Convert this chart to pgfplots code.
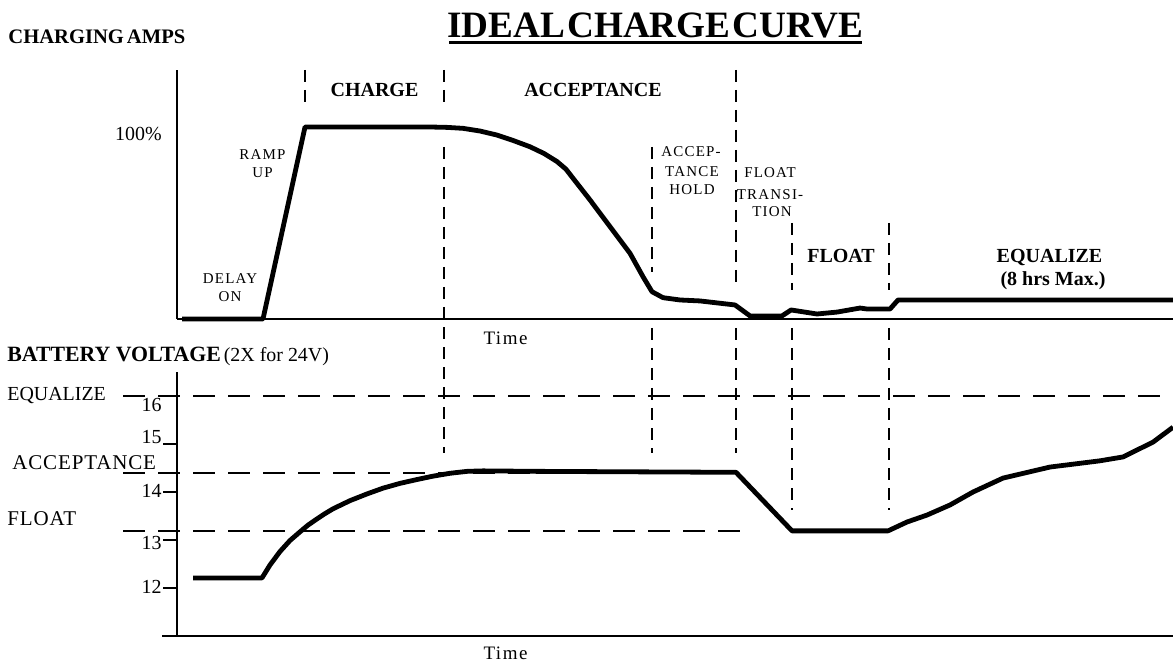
\documentclass[border=0pt]{standalone}
\usepackage{fontspec}
\setmainfont{Liberation Serif}
\newfontfamily\spaced[LetterSpace=8]{Liberation Serif}
\newfontfamily\spacedb[LetterSpace=4]{Liberation Serif}
\usepackage{pgfplots}
\pgfplotsset{compat=1.18}
\begin{document}
\begin{tikzpicture}[x=0.5bp,y=0.5bp]
\useasboundingbox (0,0) rectangle (1173,665);
\tikzset{vdash/.style={line width=0.75bp, dash pattern=on 6bp off 4bp},
         hdash/.style={line width=0.75bp, dash pattern=on 11bp off 6.5bp},
         small/.style={font=\fontsize{7.5bp}{9bp}\spaced, inner sep=0, anchor=base},
         bold/.style={font=\fontsize{10bp}{12bp}\bfseries, inner sep=0, anchor=base}}
% ---------------- top panel ----------------
\begin{axis}[at={(88.5bp,173bp)}, anchor=south west, scale only axis,
  width=498bp, height=124.5bp, xmin=0, xmax=996, ymin=0, ymax=129.7,
  axis lines=left, axis line style={-, line width=0.8bp},
  xtick=\empty, ytick=\empty, clip=false]
\addplot[line width=2.4bp, line join=round, black] coordinates {
(5,0) (86,0) (128,100) (253,100) (270,99.8) (286,99.3) (303,97.9) (320,95.8) (336,93.0)
(353,89.7) (367,86.2) (380,82.0) (389,78.0) (396,73.3) (413,62.0) (433,48.1)
(453,34.2) (466,22.0) (475,14.2) (486,11.1) (503,9.9)
(523,9.4) (558,7.3) (573,1.6) (605,1.6) (614,4.7) (640,2.6) (660,3.6)
(683,5.7) (690,5.2) (713,5.2) (721,9.9) (996,9.9)};
\end{axis}
% ---------------- bottom panel ----------------
\begin{axis}[at={(88.5bp,14.5bp)}, anchor=south west, scale only axis,
  width=498bp, height=132bp, xmin=0, xmax=996, ymin=11, ymax=16.5,
  axis lines=left, axis line style={-, line width=0.8bp},
  xtick=\empty, ytick={12,13,14,15,16}, yticklabels={},
  tick align=outside, major tick length=7bp,
  tick style={line width=0.8bp, black}, clip=false]
\draw[line width=0.8bp] (axis cs:-15,11) -- (axis cs:0,11);
\addplot[line width=2.4bp, line join=round, black] coordinates {
(16,12.21) (85,12.21) (93,12.48) (103,12.76) (113,12.99) (123,13.17) (131,13.31)
(140,13.44) (148,13.55) (156,13.65) (165,13.74) (173,13.82) (190,13.96) (206,14.08)
(223,14.18) (240,14.26) (256,14.33) (273,14.39) (290,14.43) (306,14.44) (360,14.43)
(559,14.41) (615,13.19) (711,13.19) (730,13.375) (750,13.52) (773,13.73) (796,14.0)
(826,14.29) (873,14.52) (923,14.65) (946,14.73) (976,15.04) (996,15.35)};
\end{axis}
% ---------------- reference lines ----------------
\draw[vdash] (305,595) -- (305,557);
\draw[vdash] (444,595) -- (444,557);
\draw[vdash] (444,518) -- (444,212);
\draw[vdash] (652,518) -- (652,393);
\draw[vdash] (652,337) -- (652,212);
\draw[vdash] (736,595) -- (736,375);
\draw[vdash] (736,337) -- (736,212);
\draw[vdash] (792,442) -- (792,375);
\draw[vdash] (792,337) -- (792,155);
\draw[vdash] (889,442) -- (889,375);
\draw[vdash] (889,337) -- (889,155);
\draw[hdash] (123,269) -- (1173,269);
\draw[hdash] (123,192) -- (736,192);
\draw[hdash] (123,134) -- (750,134);
% ---------------- texts ----------------
\node[inner sep=0, anchor=base, font=\fontsize{18.6bp}{22bp}\bfseries] (T) at (655.5,627) {IDEAL\hspace{1bp}CHARGE\hspace{1bp}CURVE};
\draw[line width=1.5bp] (449,622) -- (862,622);
\node[inner sep=0, anchor=base west, font=\fontsize{10.3bp}{12bp}\bfseries] at (8,621) {CHARGING\hspace{1.5bp}AMPS};
\node[inner sep=0, anchor=base west, font=\fontsize{10.9bp}{12bp}] at (7,303) {\textbf{BATTERY VOLTAGE}\hspace{1.5bp}(2X for 24V)};
\node[inner sep=0, anchor=east, font=\fontsize{10.5bp}{12bp}] at (162,531) {100\%};
\node[bold] at (374.5,568) {CHARGE};
\node[bold] at (593,568) {ACCEPTANCE};
\node[bold] at (841,402) {FLOAT};
\node[bold] at (1049.5,402) {EQUALIZE};
\node[bold] at (1053,379) {(8 hrs Max.)};
\node[small] at (262.5,505) {RAMP};
\node[small] at (262.5,487) {UP};
\node[small] at (230,381) {DELAY};
\node[small] at (230,363) {ON};
\node[small] at (691,508) {ACCEP-};
\node[small] at (692,488) {TANCE};
\node[small] at (692,470) {HOLD};
\node[small] at (770,487) {FLOAT};
\node[small] at (770,465) {TRANSI-};
\node[small] at (772,448) {TION};
\node[inner sep=0, anchor=base, font=\fontsize{9.5bp}{11bp}\spaced] at (505.5,320) {Time};
\node[inner sep=0, anchor=base, font=\fontsize{9.5bp}{11bp}\spaced] at (505.5,6) {Time};
\node[inner sep=0, anchor=west, font=\fontsize{10.5bp}{12bp}] at (7,269) {EQUALIZE};
\node[inner sep=0, anchor=west, font=\fontsize{10.5bp}{12bp}\spacedb] at (12,202) {ACCEPTANCE};
\node[inner sep=0, anchor=west, font=\fontsize{10.5bp}{12bp}\spacedb] at (7,146) {FLOAT};
\node[inner sep=0, anchor=east, font=\fontsize{7.8bp}{9bp}] at (162,260) {16};
\node[inner sep=0, anchor=east, font=\fontsize{7.8bp}{9bp}] at (162,228) {15};
\node[inner sep=0, anchor=east, font=\fontsize{7.8bp}{9bp}] at (162,174) {14};
\node[inner sep=0, anchor=east, font=\fontsize{7.8bp}{9bp}] at (162,122) {13};
\node[inner sep=0, anchor=east, font=\fontsize{7.8bp}{9bp}] at (162,78) {12};
\end{tikzpicture}
\end{document}
